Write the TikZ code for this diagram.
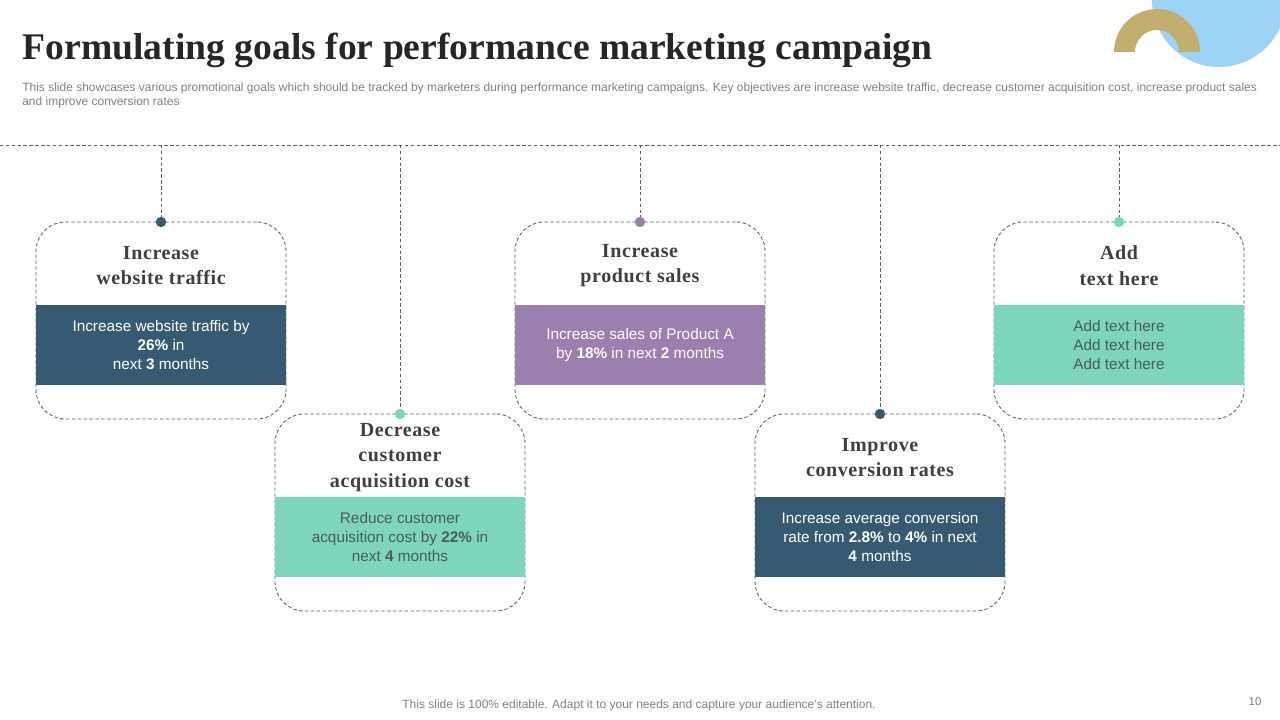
\documentclass[tikz,border=0pt]{standalone}
\usepackage{fontspec}
\setmainfont{Liberation Serif}
\setsansfont{Liberation Sans}
\newfontfamily\headfont[LetterSpace=3]{Liberation Serif}
\usepackage{xcolor}
\definecolor{navy}{HTML}{375A73}
\definecolor{mint}{HTML}{7DD5BE}
\definecolor{lilac}{HTML}{9B80AF}
\definecolor{sky}{HTML}{9DD3F5}
\definecolor{sand}{HTML}{C2AE6E}
\definecolor{ink}{HTML}{3F3F3F}
\definecolor{mintink}{HTML}{4A5C57}
\definecolor{note}{HTML}{808080}
\definecolor{rim}{HTML}{5E5E5E}

\begin{document}
\begin{tikzpicture}[x=0.75pt,y=-0.75pt,
  card/.style={draw=rim,dash pattern=on 2.6pt off 1.8pt,line width=0.65pt,rounded corners=22pt,minimum width=187.5pt,minimum height=147.75pt,inner sep=0pt},
  band/.style={minimum width=187.5pt,minimum height=60pt,inner sep=0pt,align=center,font=\sffamily\fontsize{11.5}{14.25}\selectfont},
  head/.style={align=center,text=ink,font=\headfont\fontsize{15}{19}\selectfont\bfseries},
  dot/.style={circle,inner sep=0pt,minimum size=7.8pt},
  link/.style={draw=rim,dash pattern=on 2.6pt off 1.8pt,line width=0.65pt}]
\useasboundingbox (0,0) rectangle (1280,720);
\clip (0,0) rectangle (1280,720);
\fill[sky] (1219,0) circle (67);
\begin{scope}
\clip (1100,0) rectangle (1220,52);
\fill[sand,even odd rule] (1157,52) circle (43) (1157,52) circle (22);
\end{scope}
\node[anchor=west,text=black!85,font=\fontsize{28.2}{32}\selectfont\bfseries] (title) at (18,50) {Formulating goals for performance marketing campaign};
\node[anchor=north west,inner sep=0pt,align=left,text=note,font=\sffamily\fontsize{9}{10.5}\selectfont] (intro) at (22,83) {This slide showcases various promotional goals which should be tracked by marketers during performance marketing campaigns. Key objectives are increase website traffic, decrease customer acquisition cost, increase product sales\\and improve conversion rates};
\coordinate (lineL) at (0,145);
\coordinate (lineR) at (1280,145);
\draw[link] (lineL) -- (lineR);
\foreach \n/\cx/\cy/\col/\tc/\ttl/\txt in {
  1/161/222/navy/white/{Increase\\website traffic}/{Increase website traffic by\\\textbf{26\%} in\\next \textbf{3} months},
  2/400/414/mint/mintink/{Decrease\\customer\\acquisition cost}/{Reduce customer\\acquisition cost by \textbf{22\%} in\\next \textbf{4} months},
  3/640/222/lilac/white/{Increase\\product sales}/{Increase sales of Product A\\by \textbf{18\%} in next \textbf{2} months},
  4/880/414/navy/white/{Improve\\conversion rates}/{Increase average conversion\\rate from \textbf{2.8\%} to \textbf{4\%} in next\\\textbf{4} months},
  5/1119/222/mint/mintink/{Add\\text here}/{Add text here\\Add text here\\Add text here}}{
  \node[card] (card\n) at (\cx,\cy+98.5) {};
  \node[band,fill=\col,text=\tc] (band\n) at (\cx,\cy+123) {\txt};
  \node[head] (head\n) at (\cx,\cy+43.5) {\ttl};
  \coordinate (top\n) at (\cx,145);
  \node[dot,fill=\col] (dot\n) at (\cx,\cy) {};
  \draw[link] (top\n) -- (dot\n);
}
\node[text=note,font=\sffamily\fontsize{9}{10}\selectfont] (foot) at (639,705) {This slide is 100\% editable. Adapt it to your needs and capture your audience's attention.};
\node[text=note,font=\sffamily\fontsize{8.5}{10}\selectfont] (pageno) at (1255,702) {10};
\end{tikzpicture}
\end{document}
